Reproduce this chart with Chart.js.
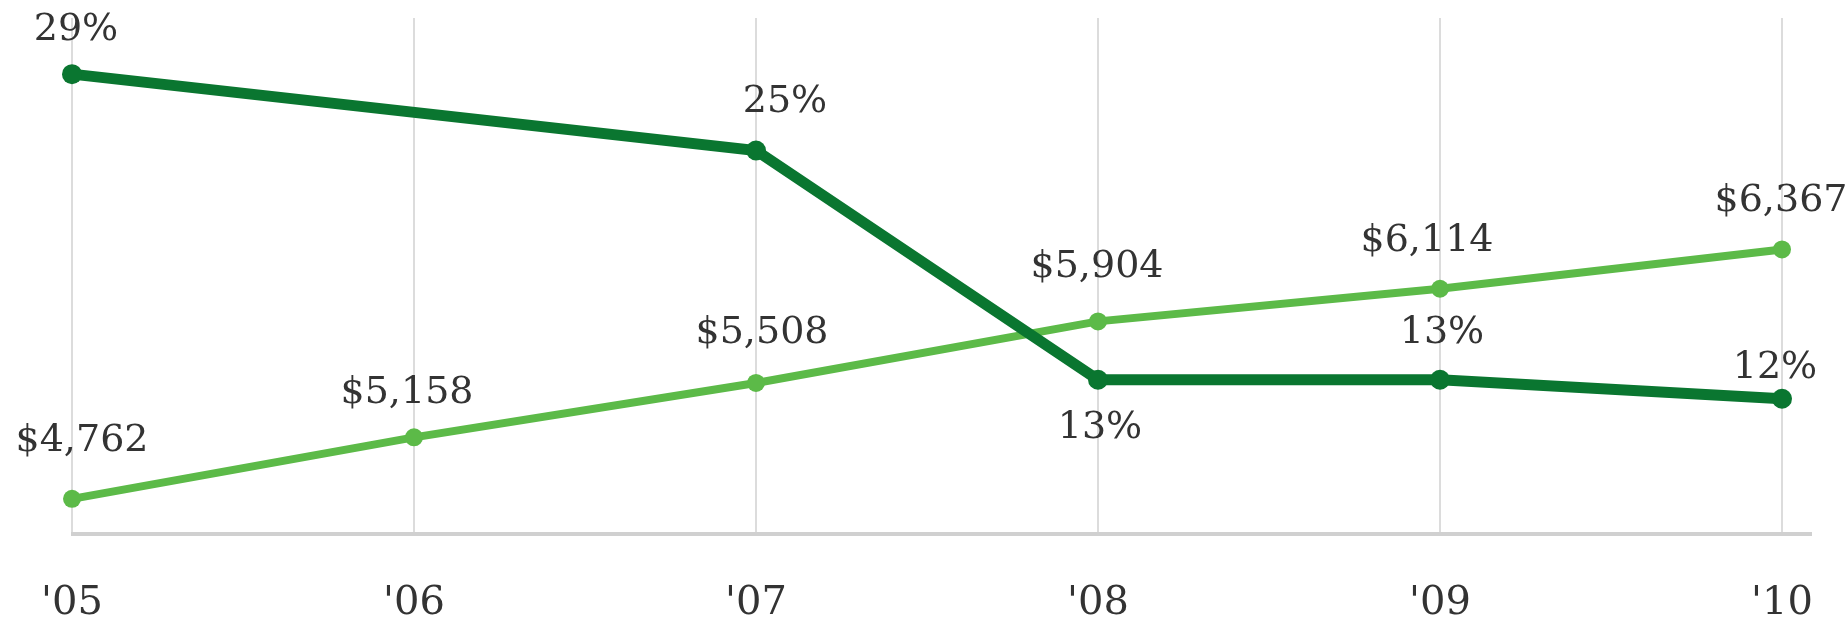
<!DOCTYPE html>
<html>
<head>
<meta charset="utf-8">
<script src="https://cdn.jsdelivr.net/npm/chart.js@4.4.1/dist/chart.umd.min.js"></script>
<style>
  html, body { margin: 0; padding: 0; background: #ffffff; }
  #wrap { position: relative; width: 1845px; height: 620px; }
</style>
</head>
<body>
<div id="wrap"><canvas id="chart"></canvas></div>
<script>
// Years on the x axis
const years = ["'05", "'06", "'07", "'08", "'09", "'10"];

// Share, in percent (no reading published for '06)
const sharePct = [29, null, 25, 13, 13, 12];

// Amount, in dollars
const amountUsd = [4762, 5158, 5508, 5904, 6114, 6367];

const DARK = '#0a7630';
const LIGHT = '#5cba48';
const TEXT = '#333333';
const SERIF = '"DejaVu Serif", "Liberation Serif", serif';

// Value labels next to each point; offsets are label-centre shifts in px
const valueLabels = {
  id: 'valueLabels',
  afterDatasetsDraw(chart, args, opts) {
    const ctx = chart.ctx;
    ctx.save();
    ctx.font = opts.font;
    ctx.fillStyle = opts.color;
    ctx.textAlign = 'center';
    ctx.textBaseline = 'middle';
    chart.data.datasets.forEach((ds, di) => {
      const meta = chart.getDatasetMeta(di);
      const shifts = opts.shifts[di];
      meta.data.forEach((pt, i) => {
        const v = ds.data[i];
        if (v === null || v === undefined) return;
        const [dx, dy] = shifts[i];
        ctx.fillText(ds.labelFormat(v), pt.x + dx, pt.y + dy);
      });
    });
    ctx.restore();
  }
};

// Baseline under the plot, running a little past the last year
const baseline = {
  id: 'baseline',
  beforeDatasetsDraw(chart, args, opts) {
    const { ctx, chartArea } = chart;
    ctx.save();
    ctx.strokeStyle = opts.color;
    ctx.lineWidth = opts.width;
    ctx.beginPath();
    ctx.moveTo(chartArea.left - 1, chartArea.bottom);
    ctx.lineTo(chartArea.right + opts.extend, chartArea.bottom);
    ctx.stroke();
    ctx.restore();
  }
};

new Chart(document.getElementById('chart'), {
  type: 'line',
  data: {
    labels: years,
    datasets: [
      {
        label: 'Share',
        data: sharePct,
        yAxisID: 'yPct',
        borderColor: DARK,
        backgroundColor: DARK,
        pointBackgroundColor: DARK,
        borderWidth: 11,
        pointRadius: 10,
        pointBorderWidth: 0,
        spanGaps: true,
        tension: 0,
        labelFormat: v => v + '%'
      },
      {
        label: 'Amount',
        data: amountUsd,
        yAxisID: 'yUsd',
        borderColor: LIGHT,
        backgroundColor: LIGHT,
        pointBackgroundColor: LIGHT,
        borderWidth: 8,
        pointRadius: 9,
        pointBorderWidth: 0,
        tension: 0,
        labelFormat: v => '$' + v.toLocaleString('en-US')
      }
    ]
  },
  options: {
    responsive: true,
    maintainAspectRatio: false,
    animation: false,
    layout: { padding: { left: 72, right: 63, top: 18, bottom: 0 } },
    plugins: {
      legend: { display: false },
      tooltip: { enabled: false },
      valueLabels: {
        font: '38px ' + SERIF,
        color: TEXT,
        shifts: [
          [[4, -44], [0, 0], [29, -48], [2, 48], [2, -47], [-7, -31]],
          [[10, -58], [-7, -44], [6, -50], [-1, -54], [-13, -48], [-1, -48]]
        ]
      },
      baseline: { color: '#d0d0d0', width: 4, extend: 30 }
    },
    scales: {
      x: {
        type: 'category',
        offset: false,
        border: { display: false },
        grid: { color: '#dcdcdc', lineWidth: 2, drawTicks: false },
        ticks: {
          padding: 46,
          color: TEXT,
          font: { family: SERIF, size: 40 },
          maxRotation: 0,
          autoSkip: false
        },
        afterFit(scale) {
          scale.height = 86;
          scale.paddingLeft = 0;
          scale.paddingRight = 0;
        }
      },
      yPct: {
        display: false,
        min: 4.92,
        max: 31.94
      },
      yUsd: {
        display: false,
        position: 'right',
        min: 4536,
        max: 7856
      }
    }
  },
  plugins: [valueLabels, baseline]
});
</script>
</body>
</html>
